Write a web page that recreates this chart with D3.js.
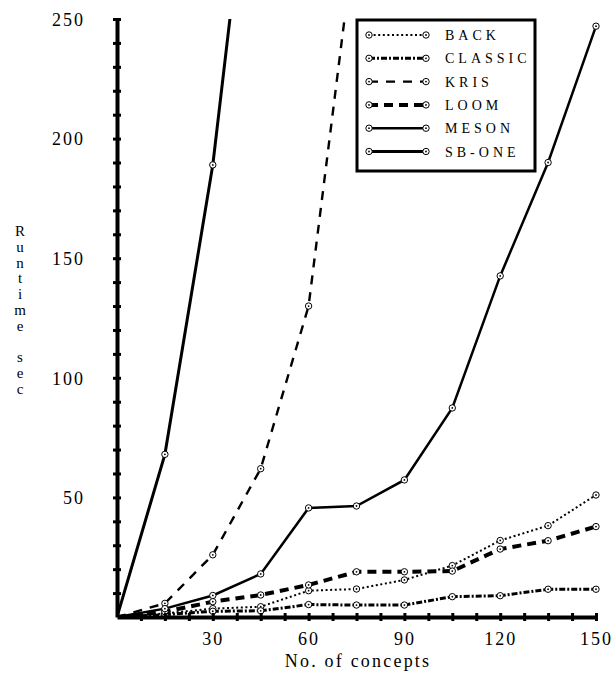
<!DOCTYPE html>
<html>
<head>
<meta charset="utf-8">
<script src="https://cdn.jsdelivr.net/npm/d3@7"></script>
<style>
  body { margin: 0; background: #fff; }
  svg { display: block; }
  text { font-family: "Liberation Serif", "DejaVu Serif", serif; fill: #000; }
</style>
</head>
<body>
<svg id="chart" width="613" height="673"></svg>
<script>
// x values (number of concepts) shared by the series
const concepts = [0, 15, 30, 45, 60, 75, 90, 105, 120, 135, 150];

// runtime in seconds
const back    = [0, 1.5, 3.5, 4.3, 11, 11.7, 15.5, 21.5, 32, 38.2, 51];
const classic = [0, 1, 2.4, 2.6, 5.2, 5, 5, 8.5, 8.9, 11.6, 11.6];
const kris    = [0, 5.7, 26, 62, 130, 290];          // goes off the top after 60
const loom    = [0, 2.2, 6.4, 9.2, 13.4, 18.9, 18.9, 19.2, 28.4, 31.9, 37.8];
const meson   = [0, 3.5, 9, 18, 45.6, 46.4, 57.3, 87.4, 142.6, 190, 247];
const sbOne   = [0, 68, 189, 360];                    // goes off the top after 30

const seriesNames = ['BACK', 'CLASSIC', 'KRIS', 'LOOM', 'MESON', 'SB-ONE'];
const seriesValues = [back, classic, kris, loom, meson, sbOne];

const xTickLabels = [30, 60, 90, 120, 150];
const yTickLabels = [50, 100, 150, 200, 250];

// line styles per series
const styles = {
    'BACK':    { width: 2,   dash: '2,2.6' },
    'CLASSIC': { width: 3,   dash: '6,2,2,2' },
    'KRIS':    { width: 2.4, dash: '9,8' },
    'LOOM':    { width: 4,   dash: '9,6' },
    'MESON':   { width: 2.5, dash: null },
    'SB-ONE':  { width: 3,   dash: null }
};

const svg = d3.select('#chart');

const x = d3.scaleLinear().domain([0, 150]).range([117, 596]);
const y = d3.scaleLinear().domain([0, 250]).range([617, 19]);

// clip lines at the plot area
svg.append('defs').append('clipPath').attr('id', 'plotclip')
    .append('rect')
    .attr('x', x(0)).attr('y', y(250))
    .attr('width', 613 - x(0)).attr('height', y(0) - y(250));

const line = d3.line()
    .x(d => x(d.x))
    .y(d => y(d.y));

const data = seriesNames.map((name, i) => ({
    name: name,
    points: seriesValues[i].map((v, j) => ({ x: concepts[j], y: v }))
}));

const plot = svg.append('g').attr('clip-path', 'url(#plotclip)');

data.forEach(s => {
    const st = styles[s.name];
    plot.append('path')
        .datum(s.points)
        .attr('fill', 'none')
        .attr('stroke', '#000')
        .attr('stroke-width', st.width)
        .attr('stroke-dasharray', st.dash)
        .attr('d', line);
});

// point markers (circle with a dot)
function marker(g, cx, cy) {
    g.append('circle').attr('cx', cx).attr('cy', cy).attr('r', 3.2)
        .attr('fill', '#fff').attr('stroke', '#000').attr('stroke-width', 1);
    g.append('circle').attr('cx', cx).attr('cy', cy).attr('r', 0.9)
        .attr('fill', '#000');
}

data.forEach(s => {
    s.points.filter(p => p.x > 0 && p.y <= 250).forEach(p => {
        marker(plot, x(p.x), y(p.y));
    });
});

// y axis
const yAxis = svg.append('g')
    .attr('transform', `translate(${x(0)},0)`)
    .call(d3.axisLeft(y)
        .tickValues(d3.range(10, 251, 10))
        .tickFormat(d => yTickLabels.includes(d) ? d : '')
        .tickSizeInner(4)
        .tickSizeOuter(0)
        .tickPadding(28));
yAxis.select('.domain').attr('stroke-width', 4).attr('stroke', '#000');
yAxis.selectAll('.tick line').attr('x1', -4).attr('x2', 4).attr('stroke-width', 3);
yAxis.selectAll('.tick text')
    .style('font-size', '18px')
    .style('letter-spacing', '2px')
    .style('font-family', '"Liberation Serif", serif')
    .attr('dy', '0.35em');

// x axis
const xAxis = svg.append('g')
    .attr('transform', `translate(0,${y(0)})`)
    .call(d3.axisBottom(x)
        .tickValues(d3.range(7.5, 150.1, 7.5))
        .tickFormat(d => xTickLabels.includes(d) ? d : '')
        .tickSizeInner(4)
        .tickSizeOuter(0)
        .tickPadding(11));
xAxis.select('.domain').attr('stroke-width', 4).attr('stroke', '#000');
xAxis.selectAll('.tick line').attr('y1', -4).attr('y2', 4).attr('stroke-width', 3);
xAxis.selectAll('.tick text')
    .style('font-size', '18px')
    .style('letter-spacing', '2px')
    .style('font-family', '"Liberation Serif", serif');

// axis titles
svg.append('text')
    .attr('x', 358).attr('y', 667)
    .attr('text-anchor', 'middle')
    .style('font-size', '18px')
    .style('letter-spacing', '2.2px')
    .text('No. of concepts');

const yTitle = ['R', 'u', 'n', 't', 'i', 'm', 'e', '', 's', 'e', 'c'];
const yt = svg.append('text')
    .attr('text-anchor', 'middle')
    .style('font-size', '15px');
yTitle.forEach((ch, i) => {
    yt.append('tspan')
        .attr('x', 20)
        .attr('y', 236 + i * 15.8)
        .text(ch);
});

// legend
const legend = svg.append('g');
legend.append('rect')
    .attr('x', 357).attr('y', 20)
    .attr('width', 178).attr('height', 151)
    .attr('fill', '#fff')
    .attr('stroke', '#000')
    .attr('stroke-width', 3);

seriesNames.forEach((name, i) => {
    const st = styles[name];
    const ly = 35 + i * 23.3;
    legend.append('line')
        .attr('x1', 369).attr('x2', 426)
        .attr('y1', ly).attr('y2', ly)
        .attr('stroke', '#000')
        .attr('stroke-width', st.width)
        .attr('stroke-dasharray', st.dash);
    marker(legend, 369, ly);
    marker(legend, 426, ly);
    legend.append('text')
        .attr('x', 445).attr('y', ly + 5)
        .style('font-size', '14px')
        .style('letter-spacing', '4px')
        .text(name);
});
</script>
</body>
</html>
